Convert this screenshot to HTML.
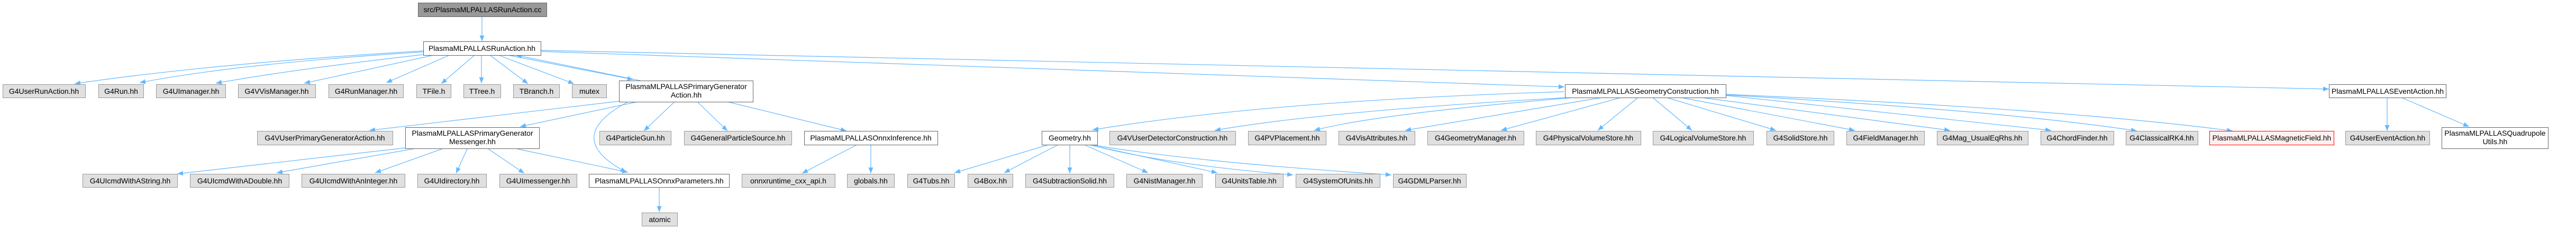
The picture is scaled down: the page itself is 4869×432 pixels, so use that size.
<!DOCTYPE html>
<html><head><meta charset="utf-8"><style>
html,body{margin:0;padding:0;background:#fff;}
svg{display:block;}
text{font-family:"Liberation Sans",Arial,sans-serif;font-size:14px;fill:#000;}
.g{fill:#e0e0e0;stroke:#999;stroke-width:1;}
.w{fill:#fff;stroke:#666;stroke-width:1;}
.r{fill:#fff0f0;stroke:#f00;stroke-width:1;}
.root{fill:#999;stroke:#666;stroke-width:1;}
.e{fill:none;stroke:#63b8ff;stroke-width:1.2;marker-end:url(#a);}
</style></head><body>
<svg width="4869" height="432" xmlns="http://www.w3.org/2000/svg">
<defs><marker id="a" viewBox="0 0 10 8" refX="10" refY="4" markerWidth="11" markerHeight="9" markerUnits="userSpaceOnUse" orient="auto"><path d="M0,0 L10,4 L0,8 z" fill="#63b8ff"/></marker></defs>
<g>
<path class="e" d="M911,31 L911,78"/>
<path class="e" d="M800,96 Q400,120 141,158"/>
<path class="e" d="M800,98 Q450,120 264,156"/>
<path class="e" d="M800,103 Q560,130 408,157"/>
<path class="e" d="M820,104 L575,157"/>
<path class="e" d="M850,104 L730,156"/>
<path class="e" d="M897,104 L834,158"/>
<path class="e" d="M910,104 L910,157"/>
<path class="e" d="M926,104 L998,158"/>
<path class="e" d="M942,104 L1085,158"/>
<path class="e" d="M960,104 L1197,150"/>
<path class="e" d="M1210,152 L975,104"/>
<path class="e" d="M1022,97 Q2000,130 2957,164"/>
<path class="e" d="M1022,95 Q2700,130 4402,168"/>
<path class="e" d="M1170,191 L698,246"/>
<path class="e" d="M1205,192 L983,239"/>
<path class="e" d="M1275,192 L1217,247"/>
<path class="e" d="M1318,192 L1375,247"/>
<path class="e" d="M1375,192 L1600,247"/>
<path class="e" d="M1187,192 Q1060,260 1184,325"/>
<path class="e" d="M766,279 L335,328"/>
<path class="e" d="M786,280 L523,326"/>
<path class="e" d="M838,280 L709,326"/>
<path class="e" d="M883,281 L862,327"/>
<path class="e" d="M923,281 L991,327"/>
<path class="e" d="M978,281 L1187,325"/>
<path class="e" d="M1246,353 L1246,400"/>
<path class="e" d="M1620,273 L1516,327"/>
<path class="e" d="M1646,273 L1646,327"/>
<path class="e" d="M2956,173 Q2400,190 2065,245"/>
<path class="e" d="M2965,184 Q2500,210 2296,246"/>
<path class="e" d="M2975,184 Q2600,215 2484,246"/>
<path class="e" d="M3028,184 L2656,246"/>
<path class="e" d="M3064,184 L2837,246"/>
<path class="e" d="M3096,184 L3020,246"/>
<path class="e" d="M3124,184 L3198,246"/>
<path class="e" d="M3150,184 L3357,246"/>
<path class="e" d="M3177,184 L3506,246"/>
<path class="e" d="M3216,184 L3686,246"/>
<path class="e" d="M3262,180 L3877,246"/>
<path class="e" d="M3262,179 Q3800,210 4039,247"/>
<path class="e" d="M3262,178 Q3900,205 4220,247"/>
<path class="e" d="M1982,273 L1804,326"/>
<path class="e" d="M2000,273 L1898,326"/>
<path class="e" d="M2022,273 L2022,327"/>
<path class="e" d="M2049,273 L2170,326"/>
<path class="e" d="M2058,273 L2301,326"/>
<path class="e" d="M2060,273 Q2200,310 2444,330"/>
<path class="e" d="M2063,273 Q2250,305 2630,330"/>
<path class="e" d="M4512,184 L4512,247"/>
<path class="e" d="M4539,184 L4667,239"/>
</g>
<g text-anchor="middle">
<rect class="root" x="790.5" y="5.5" width="243" height="26"/><text x="912" y="23">src/PlasmaMLPALLASRunAction.cc</text>
<rect class="w" x="800.5" y="78.5" width="222" height="26"/><text x="911" y="96">PlasmaMLPALLASRunAction.hh</text>

<rect class="g" x="5.5" y="159.5" width="156" height="25"/><text x="83" y="177">G4UserRunAction.hh</text>
<rect class="g" x="186.5" y="159.5" width="85" height="25"/><text x="229" y="177">G4Run.hh</text>
<rect class="g" x="295.5" y="159.5" width="131" height="25"/><text x="361" y="177">G4UImanager.hh</text>
<rect class="g" x="450.5" y="159.5" width="146" height="25"/><text x="523" y="177">G4VVisManager.hh</text>
<rect class="g" x="621.5" y="159.5" width="141" height="25"/><text x="692" y="177">G4RunManager.hh</text>
<rect class="g" x="787.5" y="159.5" width="65" height="25"/><text x="820" y="177">TFile.h</text>
<rect class="g" x="876.5" y="159.5" width="70" height="25"/><text x="911" y="177">TTree.h</text>
<rect class="g" x="970.5" y="159.5" width="87" height="25"/><text x="1014" y="177">TBranch.h</text>
<rect class="g" x="1081.5" y="159.5" width="65" height="25"/><text x="1114" y="177">mutex</text>
<rect class="w" x="1170.5" y="152.5" width="253" height="40"/><text x="1297" y="168">PlasmaMLPALLASPrimaryGenerator</text><text x="1297" y="184">Action.hh</text>
<rect class="w" x="2958.5" y="159.5" width="304" height="25"/><text x="3110" y="177">PlasmaMLPALLASGeometryConstruction.hh</text>
<rect class="w" x="4402.5" y="159.5" width="221" height="25"/><text x="4513" y="177">PlasmaMLPALLASEventAction.hh</text>

<rect class="g" x="486.5" y="247.5" width="256" height="26"/><text x="614" y="265">G4VUserPrimaryGeneratorAction.hh</text>
<rect class="w" x="766.5" y="240.5" width="253" height="40"/><text x="893" y="256">PlasmaMLPALLASPrimaryGenerator</text><text x="893" y="272">Messenger.hh</text>
<rect class="g" x="1133.5" y="247.5" width="135" height="26"/><text x="1201" y="265">G4ParticleGun.hh</text>
<rect class="g" x="1293.5" y="247.5" width="203" height="26"/><text x="1395" y="265">G4GeneralParticleSource.hh</text>
<rect class="w" x="1520.5" y="247.5" width="252" height="26"/><text x="1646" y="265">PlasmaMLPALLASOnnxInference.hh</text>
<rect class="w" x="1969.5" y="247.5" width="105" height="26"/><text x="2022" y="265">Geometry.hh</text>
<rect class="g" x="2097.5" y="247.5" width="238" height="26"/><text x="2216" y="265">G4VUserDetectorConstruction.hh</text>
<rect class="g" x="2359.5" y="247.5" width="147" height="26"/><text x="2433" y="265">G4PVPlacement.hh</text>
<rect class="g" x="2530.5" y="247.5" width="144" height="26"/><text x="2602" y="265">G4VisAttributes.hh</text>
<rect class="g" x="2698.5" y="247.5" width="182" height="26"/><text x="2789" y="265">G4GeometryManager.hh</text>
<rect class="g" x="2903.5" y="247.5" width="198" height="26"/><text x="3002" y="265">G4PhysicalVolumeStore.hh</text>
<rect class="g" x="3124.5" y="247.5" width="190" height="26"/><text x="3219" y="265">G4LogicalVolumeStore.hh</text>
<rect class="g" x="3339.5" y="247.5" width="127" height="26"/><text x="3403" y="265">G4SolidStore.hh</text>
<rect class="g" x="3490.5" y="247.5" width="147" height="26"/><text x="3564" y="265">G4FieldManager.hh</text>
<rect class="g" x="3661.5" y="247.5" width="172" height="26"/><text x="3747" y="265">G4Mag_UsualEqRhs.hh</text>
<rect class="g" x="3857.5" y="247.5" width="138" height="26"/><text x="3926" y="265">G4ChordFinder.hh</text>
<rect class="g" x="4018.5" y="247.5" width="136" height="26"/><text x="4086" y="265">G4ClassicalRK4.hh</text>
<rect class="r" x="4176.5" y="247.5" width="235" height="26"/><text x="4294" y="265">PlasmaMLPALLASMagneticField.hh</text>
<rect class="g" x="4433.5" y="247.5" width="159" height="26"/><text x="4513" y="265">G4UserEventAction.hh</text>
<rect class="w" x="4615.5" y="240.5" width="201" height="40"/><text x="4716" y="256">PlasmaMLPALLASQuadrupole</text><text x="4716" y="272">Utils.hh</text>

<rect class="g" x="156.5" y="328.5" width="179" height="25"/><text x="246" y="346">G4UIcmdWithAString.hh</text>
<rect class="g" x="359.5" y="328.5" width="187" height="25"/><text x="453" y="346">G4UIcmdWithADouble.hh</text>
<rect class="g" x="570.5" y="328.5" width="195" height="25"/><text x="668" y="346">G4UIcmdWithAnInteger.hh</text>
<rect class="g" x="789.5" y="328.5" width="130" height="25"/><text x="854" y="346">G4UIdirectory.hh</text>
<rect class="g" x="944.5" y="328.5" width="146" height="25"/><text x="1017" y="346">G4UImessenger.hh</text>
<rect class="w" x="1113.5" y="328.5" width="265" height="25"/><text x="1246" y="346">PlasmaMLPALLASOnnxParameters.hh</text>
<rect class="g" x="1402.5" y="328.5" width="176" height="25"/><text x="1490" y="346">onnxruntime_cxx_api.h</text>
<rect class="g" x="1601.5" y="328.5" width="89" height="25"/><text x="1646" y="346">globals.hh</text>
<rect class="g" x="1715.5" y="328.5" width="89" height="25"/><text x="1760" y="346">G4Tubs.hh</text>
<rect class="g" x="1829.5" y="328.5" width="85" height="25"/><text x="1872" y="346">G4Box.hh</text>
<rect class="g" x="1938.5" y="328.5" width="167" height="25"/><text x="2022" y="346">G4SubtractionSolid.hh</text>
<rect class="g" x="2129.5" y="328.5" width="143" height="25"/><text x="2201" y="346">G4NistManager.hh</text>
<rect class="g" x="2297.5" y="328.5" width="128" height="25"/><text x="2361" y="346">G4UnitsTable.hh</text>
<rect class="g" x="2449.5" y="328.5" width="159" height="25"/><text x="2529" y="346">G4SystemOfUnits.hh</text>
<rect class="g" x="2633.5" y="328.5" width="138" height="25"/><text x="2702" y="346">G4GDMLParser.hh</text>

<rect class="g" x="1213.5" y="401.5" width="67" height="25"/><text x="1247" y="419">atomic</text>
</g>
</svg>
</body></html>
